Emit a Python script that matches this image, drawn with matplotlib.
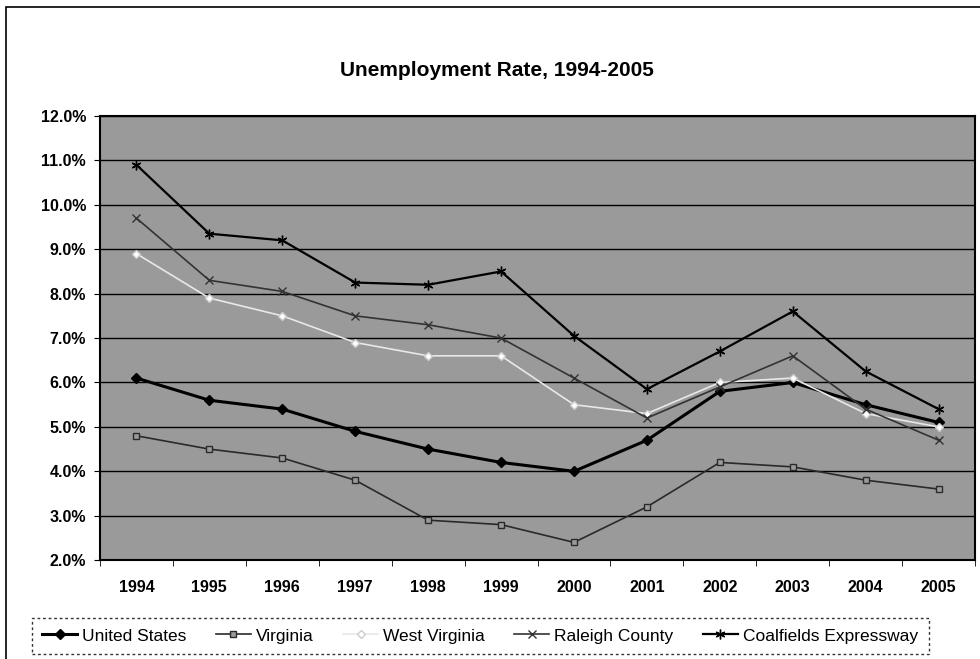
import numpy as np
import matplotlib
matplotlib.use('Agg')
import matplotlib.pyplot as plt
from matplotlib.ticker import FuncFormatter, FixedLocator

plt.rcParams['font.family'] = ['Liberation Sans', 'DejaVu Sans']

years = ['1994', '1995', '1996', '1997', '1998', '1999',
         '2000', '2001', '2002', '2003', '2004', '2005']

united_states = [6.1, 5.6, 5.4, 4.9, 4.5, 4.2, 4.0, 4.7, 5.8, 6.0, 5.5, 5.1]
virginia = [4.8, 4.5, 4.3, 3.8, 2.9, 2.8, 2.4, 3.2, 4.2, 4.1, 3.8, 3.6]
west_virginia = [8.9, 7.9, 7.5, 6.9, 6.6, 6.6, 5.5, 5.3, 6.0, 6.1, 5.3, 5.0]
raleigh_county = [9.7, 8.3, 8.05, 7.5, 7.3, 7.0, 6.1, 5.2, 5.9, 6.6, 5.4, 4.7]
coalfields = [10.9, 9.35, 9.2, 8.25, 8.2, 8.5, 7.05, 5.85, 6.7, 7.6, 6.25, 5.4]

fig = plt.figure(figsize=(9.8, 6.59), dpi=100)
ax = fig.add_axes([0.102, 0.150, 0.893, 0.674])
ax.set_facecolor('#9a9a9a')

x = np.arange(len(years))
ax.plot(x, united_states, color='black', lw=2.2, marker='D', ms=5, label='United States')
ax.plot(x, virginia, color='#2a2a2a', lw=1.2, marker='s', ms=4, mfc='#9a9a9a', label='Virginia')
ax.plot(x, west_virginia, color='#e8e8e8', lw=1.2, marker='D', ms=4, mfc='white', mec='#cccccc', label='West Virginia')
ax.plot(x, raleigh_county, color='#333333', lw=1.2, marker='x', ms=6, label='Raleigh County')
ax.plot(x, coalfields, color='black', lw=1.6, marker=(6, 2, 0), ms=7, label='Coalfields Expressway')

ax.set_xlim(-0.5, len(years) - 0.5)
ax.set_ylim(2, 12)
ax.set_yticks(np.arange(2, 12.1, 1))
ax.yaxis.set_major_formatter(FuncFormatter(lambda v, p: '%.1f%%' % v))
ax.yaxis.grid(True, color='black', lw=1.0)
ax.set_axisbelow(True)

ax.set_xticks(x)
ax.set_xticklabels(years)
ax.xaxis.set_minor_locator(FixedLocator(np.arange(-0.5, len(years), 1)))
ax.tick_params(axis='x', which='major', length=0, pad=14)
ax.tick_params(axis='x', which='minor', length=4)
ax.tick_params(axis='y', length=4, pad=6)
for lab in ax.get_xticklabels() + ax.get_yticklabels():
    lab.set_fontsize(11.5)
    lab.set_fontweight('bold')

for s in ax.spines.values():
    s.set_linewidth(1.5)

fig.text(0.507, 0.893, 'Unemployment Rate, 1994-2005', ha='center', va='center',
         fontsize=15, fontweight='bold')

leg = fig.legend(loc='center', bbox_to_anchor=(0.49, 0.035), ncol=5, frameon=True,
                 fontsize=12.5, handlelength=2.0, columnspacing=1.7, handletextpad=0.3,
                 borderpad=0.3)
leg.get_frame().set_edgecolor('black')
leg.get_frame().set_linestyle((0, (2, 2)))
leg.get_frame().set_boxstyle('square')

fig.patches.append(plt.Rectangle((0.006, -0.01), 1.0, 1.0, transform=fig.transFigure,
                                 fill=False, edgecolor='black', lw=1.2))

fig.savefig('out.png', dpi=100)
